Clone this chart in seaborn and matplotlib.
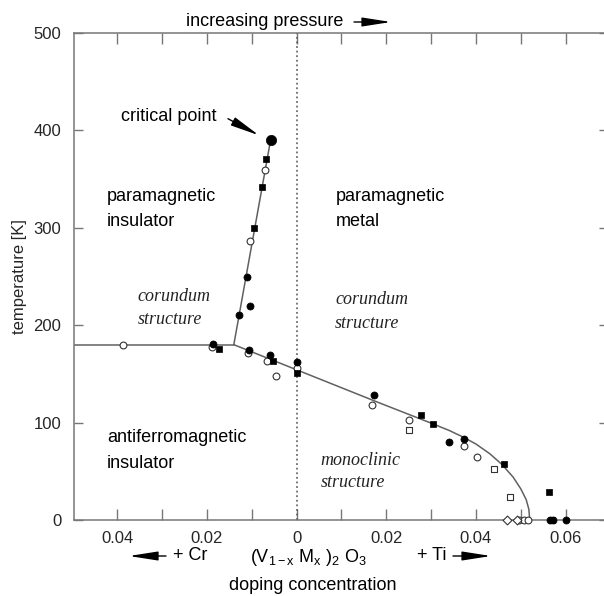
import matplotlib
matplotlib.use('Agg')
import matplotlib.pyplot as plt
import seaborn as sns

# doping x (Cr side negative, Ti side positive) and temperature [K]
fc_x = [-0.0111, -0.0105, -0.0129, -0.0187, -0.0106, -0.0059, 0.0, 0.0173, 0.0341, 0.0373, 0.0566, 0.0572, 0.0601]
fc_t = [250, 220, 210, 181, 175, 169, 162, 128, 80, 83, 0, 0, 0]
crit_x = [-0.0058]
crit_t = [390]
oc_x = [-0.0070, -0.0103, -0.0388, -0.0188, -0.0108, -0.0065, -0.0046, 0.0, 0.0168, 0.0251, 0.0373, 0.0402, 0.0497, 0.0507, 0.0516]
oc_t = [359, 286, 180, 178, 171, 163, 148, 156, 118, 103, 76, 65, 0, 0, 0]
fs_x = [-0.0068, -0.0077, -0.0094, -0.0173, -0.0053, 0.0, 0.0277, 0.0305, 0.0462, 0.0563, 0.0569]
fs_t = [371, 342, 300, 176, 163, 151, 108, 99, 58, 29, 0]
os_x = [0.0251, 0.0440, 0.0477]
os_t = [92, 52, 24]
od_x = [0.0469, 0.0492]
od_t = [0, 0]

# phase boundaries
b1_x = [-0.0497, -0.0140]
b1_t = [180, 180]
b2_x = [-0.0140, -0.0058]
b2_t = [180, 390]
b3_x = [-0.0140, 0.0186, 0.0297, 0.0340, 0.0372, 0.0400, 0.0431, 0.0458, 0.0483, 0.0500, 0.0512, 0.0518, 0.0520]
b3_t = [180, 120, 100, 92, 85, 78, 68, 57, 44, 32, 21, 11, 0]

xticks = [-0.04, -0.03, -0.02, -0.01, 0.0, 0.01, 0.02, 0.03, 0.04, 0.05, 0.06]
xlabels = ['0.04', '', '0.02', '', '0', '', '0.02', '', '0.04', '', '0.06']
yticks = [0, 100, 200, 300, 400, 500]

sns.set_style('white')
plt.rcParams['font.family'] = ['Liberation Sans', 'DejaVu Sans']
plt.rcParams['mathtext.fontset'] = 'custom'
plt.rcParams['mathtext.rm'] = 'Liberation Sans'
plt.rcParams['mathtext.it'] = 'Liberation Sans:italic'

W, H = 604, 596
fig = plt.figure(figsize=(W / 100, H / 100), dpi=100)
ax = fig.add_axes([74 / W, 1 - 520 / H, (608 - 74) / W, (520 - 33) / H])

def fp(px, py):
    return (px / W, 1 - py / H)

lc = '#606060'
for bx, bt in [(b1_x, b1_t), (b2_x, b2_t), (b3_x, b3_t)]:
    sns.lineplot(x=bx, y=bt, sort=False, estimator=None, color=lc, lw=1.1, ax=ax, zorder=2)

ax.axvline(0, color='#555555', lw=1.1, ls=(0, (1.2, 1.8)), zorder=1)

pts = dict(ax=ax, clip_on=False)
sns.scatterplot(x=fc_x, y=fc_t, marker='o', s=26, color='black', edgecolor='black', linewidth=0.5, zorder=4, **pts)
sns.scatterplot(x=crit_x, y=crit_t, marker='o', s=55, color='black', edgecolor='black', linewidth=0.5, zorder=4, **pts)
sns.scatterplot(x=oc_x, y=oc_t, marker='o', s=24, color='white', edgecolor='#333333', linewidth=0.8, zorder=3, **pts)
sns.scatterplot(x=fs_x, y=fs_t, marker='s', s=24, color='black', edgecolor='black', linewidth=0.5, zorder=4, **pts)
sns.scatterplot(x=os_x, y=os_t, marker='s', s=22, color='white', edgecolor='#333333', linewidth=0.8, zorder=3, **pts)
sns.scatterplot(x=od_x, y=od_t, marker='D', s=20, color='white', edgecolor='#333333', linewidth=0.8, zorder=3, **pts)

ax.set_xlim(-0.04964, 0.06945)
ax.set_ylim(0, 500)
ax.set_xticks(xticks)
ax.set_xticklabels(xlabels)
ax.set_yticks(yticks)
ax.tick_params(axis='x', direction='in', length=8, width=1, color='#777777',
               top=True, bottom=True, labelsize=12, pad=8)
ax.tick_params(axis='y', direction='in', length=6.5, width=1, color='#777777',
               left=True, right=True, labelsize=12, pad=9)
for sp in ax.spines.values():
    sp.set_color('#777777')
    sp.set_linewidth(1.1)
ax.set_xlabel('')
ax.set_ylabel('temperature [K]', fontsize=12, labelpad=5)

sans = dict(fontsize=13, color='black', va='center')
serif = dict(fontsize=13, color='#222222', va='center', family='Liberation Serif', style='italic')

arrow = dict(arrowstyle='-|>,head_length=1.6,head_width=0.25', color='black', lw=1,
             mutation_scale=11, shrinkA=0, shrinkB=0)

ax.text(-0.0391, 414, 'critical point', **sans)
ax.annotate('', xy=(-0.0084, 395), xytext=(-0.0153, 412), arrowprops=arrow)
ax.text(-0.0423, 332, 'paramagnetic', **sans)
ax.text(-0.0423, 306, 'insulator', **sans)
ax.text(0.0088, 332, 'paramagnetic', **sans)
ax.text(0.0088, 306, 'metal', **sans)
ax.text(-0.0354, 229, 'corundum', **serif)
ax.text(-0.0354, 206, 'structure', **serif)
ax.text(0.0086, 226, 'corundum', **serif)
ax.text(0.0086, 202, 'structure', **serif)
ax.text(-0.0423, 85, 'antiferromagnetic', **sans)
ax.text(-0.0423, 58, 'insulator', **sans)
ax.text(0.0054, 61, 'monoclinic', **serif)
ax.text(0.0054, 38, 'structure', **serif)

fig.text(*fp(186, 22), 'increasing pressure', **sans)
ax.annotate('', xy=fp(391, 22), xytext=fp(354, 22), xycoords='figure fraction',
            textcoords='figure fraction', arrowprops=arrow)

ax.annotate('', xy=fp(129, 556), xytext=fp(166, 556), xycoords='figure fraction',
            textcoords='figure fraction', arrowprops=arrow, annotation_clip=False)
fig.text(*fp(173, 556), '+ Cr', **sans)
fig.text(*fp(250, 557), r'(V$_{\mathrm{1-x}}$ M$_{\mathrm{x}}$ )$_{\mathrm{2}}$ O$_{\mathrm{3}}$', **sans)
fig.text(*fp(417, 556), '+ Ti', **sans)
ax.annotate('', xy=fp(491, 556), xytext=fp(453, 556), xycoords='figure fraction',
            textcoords='figure fraction', arrowprops=arrow, annotation_clip=False)
fig.text(*fp(313, 585), 'doping concentration', fontsize=13, color='black', va='center', ha='center')

fig.savefig('out.png', dpi=100)
